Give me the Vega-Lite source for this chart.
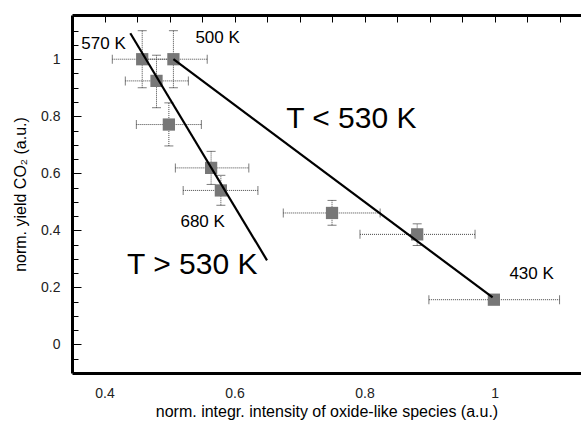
{
  "$schema": "https://vega.github.io/schema/vega-lite/v6.json",
  "autosize": "none",
  "width": 509,
  "height": 358,
  "padding": {"left": 72, "top": 15, "right": 0, "bottom": 49},
  "background": "white",
  "config": {"view": {"stroke": null, "fill": null}, "font": "Liberation Sans"},
  "datasets": {
    "points": [
      {"x": 0.458, "y": 1.0, "xlo": 0.412, "xhi": 0.504, "ylo": 0.9, "yhi": 1.1},
      {"x": 0.506, "y": 1.0, "xlo": 0.455, "xhi": 0.558, "ylo": 0.9, "yhi": 1.1},
      {"x": 0.48, "y": 0.924, "xlo": 0.432, "xhi": 0.529, "ylo": 0.83, "yhi": 1.014},
      {"x": 0.499, "y": 0.771, "xlo": 0.449, "xhi": 0.549, "ylo": 0.696, "yhi": 0.847},
      {"x": 0.564, "y": 0.619, "xlo": 0.509, "xhi": 0.622, "ylo": 0.561, "yhi": 0.677},
      {"x": 0.579, "y": 0.54, "xlo": 0.521, "xhi": 0.636, "ylo": 0.488, "yhi": 0.593},
      {"x": 0.75, "y": 0.461, "xlo": 0.675, "xhi": 0.824, "ylo": 0.418, "yhi": 0.505},
      {"x": 0.881, "y": 0.386, "xlo": 0.793, "xhi": 0.97, "ylo": 0.347, "yhi": 0.423},
      {"x": 0.999, "y": 0.157, "xlo": 0.899, "xhi": 1.1, "ylo": 0.147, "yhi": 0.167}
    ],
    "fits": [
      {"fit": "T > 530 K", "x": 0.4397, "y": 1.091},
      {"fit": "T > 530 K", "x": 0.65, "y": 0.295},
      {"fit": "T < 530 K", "x": 0.506, "y": 1.0},
      {"fit": "T < 530 K", "x": 0.997, "y": 0.165}
    ],
    "small": [
      {"label": "570 K", "x": 0.3986, "y": 1.054},
      {"label": "500 K", "x": 0.574, "y": 1.074},
      {"label": "680 K", "x": 0.551, "y": 0.43},
      {"label": "430 K", "x": 1.057, "y": 0.248}
    ],
    "big": [
      {"label": "T < 530 K", "x": 0.7797, "y": 0.792},
      {"label": "T > 530 K", "x": 0.535, "y": 0.279}
    ]
  },
  "resolve": {"axis": {"x": "independent", "y": "independent"}},
  "layer": [
    {
      "data": {"name": "points"},
      "mark": {"type": "errorbar", "ticks": {"size": 9, "strokeDash": [1, 1]}, "rule": {"strokeDash": [1, 1]}, "color": "#444"},
      "encoding": {
        "x": {"field": "xlo", "type": "quantitative", "axis": null, "scale": {"domain": [0.35, 1.133], "nice": false, "zero": false}},
        "x2": {"field": "xhi"},
        "y": {"field": "y", "type": "quantitative", "axis": null, "scale": {"domain": [-0.1, 1.155], "nice": false, "zero": false}}
      }
    },
    {
      "data": {"name": "points"},
      "mark": {"type": "errorbar", "ticks": {"size": 9, "strokeDash": [1, 1]}, "rule": {"strokeDash": [1, 1]}, "color": "#444"},
      "encoding": {
        "x": {"field": "x", "type": "quantitative", "axis": null},
        "y": {"field": "ylo", "type": "quantitative", "axis": null},
        "y2": {"field": "yhi"}
      }
    },
    {
      "data": {"name": "points"},
      "mark": {"type": "point", "shape": "square", "filled": true, "size": 150, "color": "#777", "opacity": 1},
      "encoding": {
        "x": {
          "field": "x", "type": "quantitative",
          "axis": {
            "orient": "bottom", "zindex": 1,
            "title": "norm. integr. intensity of oxide-like species (a.u.)",
            "titleFont": "Liberation Sans", "titleFontSize": 16, "titleFontWeight": "normal", "titleColor": "black", "titlePadding": 3,
            "values": [0.4, 0.6, 0.8, 1.0], "format": "~g",
            "labelFont": "Liberation Sans", "labelFontSize": 14, "labelColor": "#222", "labelPadding": 13,
            "ticks": false,
            "domainColor": "black", "domainWidth": 3, "grid": false
          }
        },
        "y": {
          "field": "y", "type": "quantitative",
          "axis": {
            "orient": "left", "zindex": 1,
            "title": "norm. yield CO₂ (a.u.)",
            "titleFont": "Liberation Sans", "titleFontSize": 16, "titleFontWeight": "normal", "titleColor": "black", "titlePadding": 12,
            "values": [0, 0.2, 0.4, 0.6, 0.8, 1.0], "format": "~g",
            "labelFont": "Liberation Sans", "labelFontSize": 14, "labelColor": "#222", "labelPadding": 12,
            "ticks": false,
            "domainColor": "black", "domainWidth": 3, "grid": false
          }
        }
      }
    },
    {
      "data": {"name": "fits"},
      "mark": {"type": "line", "color": "black", "strokeWidth": 2.2},
      "encoding": {
        "x": {"field": "x", "type": "quantitative", "axis": {"orient": "top", "zindex": 1, "labels": false, "ticks": false, "title": null, "domainColor": "black", "domainWidth": 3, "grid": false}},
        "y": {"field": "y", "type": "quantitative", "axis": null},
        "detail": {"field": "fit"}
      }
    },
    {
      "data": {"name": "small"},
      "mark": {"type": "text", "font": "Liberation Sans", "fontSize": 17, "color": "black", "align": "center", "baseline": "middle"},
      "encoding": {
        "x": {
          "field": "x", "type": "quantitative",
          "axis": {
            "orient": "bottom", "zindex": 1, "domain": false, "labels": false, "title": null, "ticks": false,
            "values": [0.4, 0.45, 0.5, 0.55, 0.6, 0.65, 0.7, 0.75, 0.8, 0.85, 0.9, 0.95, 1.0, 1.05, 1.1],
            "grid": true, "gridColor": "black", "gridWidth": 1, "gridOpacity": 1, "gridDash": [7, 2000]
          }
        },
        "y": {
          "field": "y", "type": "quantitative",
          "axis": {
            "orient": "left", "zindex": 1, "domain": false, "labels": false, "title": null, "ticks": false,
            "values": [-0.05, 0, 0.05, 0.1, 0.15, 0.2, 0.25, 0.3, 0.35, 0.4, 0.45, 0.5, 0.55, 0.6, 0.65, 0.7, 0.75, 0.8, 0.85, 0.9, 0.95, 1.0, 1.05, 1.1],
            "grid": true, "gridColor": "black", "gridWidth": 1, "gridOpacity": 1,
            "gridDash": {"condition": {"test": "abs(datum.value*5 - round(datum.value*5)) < 0.001", "value": [9, 2000]}, "value": [6, 2000]}
          }
        },
        "text": {"field": "label"}
      }
    },
    {
      "data": {"name": "big"},
      "mark": {"type": "text", "font": "Liberation Sans", "fontSize": 30, "color": "black", "align": "center", "baseline": "middle"},
      "encoding": {
        "x": {"field": "x", "type": "quantitative", "axis": null},
        "y": {"field": "y", "type": "quantitative", "axis": null},
        "text": {"field": "label"}
      }
    }
  ]
}
